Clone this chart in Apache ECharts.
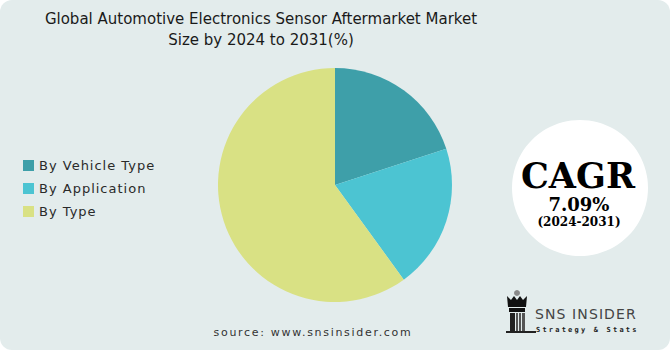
<!DOCTYPE html>
<html>
<head>
<meta charset="utf-8">
<script src="https://cdn.jsdelivr.net/npm/echarts@6/dist/echarts.min.js"></script>
<style>
html,body{margin:0;padding:0;background:#ffffff;}
#wrap{width:670px;height:350px;background:#e3ecec;border-radius:12px;overflow:hidden;}
#chart{width:670px;height:350px;}
</style>
</head>
<body>
<div id="wrap"><div id="chart"></div></div>
<script>
var titleLines = ["Global Automotive Electronics Sensor Aftermarket Market", "Size by 2024 to 2031(%)"];
var categories = ["By Vehicle Type", "By Application", "By Type"];
var values = [20, 20, 60];
var colors = ["#3e9fa9", "#4cc4d2", "#d9e184"];
var cagrTexts = ["CAGR", "7.09%", "(2024-2031)"];
var sourceText = "source: www.snsinsider.com";
var logoTexts = ["SNS INSIDER", "Strategy & Stats"];

var chart = echarts.init(document.getElementById('chart'), null, {renderer: 'svg'});
var data = categories.map(function (c, i) {
  return {name: c, value: values[i], itemStyle: {color: colors[i]}};
});
var ink = "#1a1a1a";
chart.setOption({
  backgroundColor: 'transparent',
  animation: false,
  legend: {
    orient: 'vertical', left: 18, top: 154,
    icon: 'rect', itemWidth: 11, itemHeight: 11, itemGap: 10,
    data: categories,
    textStyle: {fontFamily: 'DejaVu Sans', fontSize: 13, color: '#2a2a2a', lineHeight: 12},
    selectedMode: false
  },
  series: [{
    type: 'pie', center: [335, 185], radius: 117, startAngle: 90, clockwise: true,
    label: {show: false}, labelLine: {show: false},
    emphasis: {disabled: true}, silent: true,
    itemStyle: {borderWidth: 0},
    data: data
  }],
  graphic: [
    {type: 'text', style: {text: titleLines[0], x: 261, y: 19, align: 'center', verticalAlign: 'middle', font: '15px "DejaVu Sans"', fill: ink}},
    {type: 'text', style: {text: titleLines[1], x: 261, y: 40, align: 'center', verticalAlign: 'middle', font: '15px "DejaVu Sans"', fill: ink}},
    {type: 'circle', shape: {cx: 580, cy: 188, r: 68}, style: {fill: '#ffffff'}},
    {type: 'text', style: {text: cagrTexts[0], x: 578, y: 175, align: 'center', verticalAlign: 'middle', font: 'bold 35px "DejaVu Serif"', fill: '#000'}},
    {type: 'text', style: {text: cagrTexts[1], x: 579, y: 204, align: 'center', verticalAlign: 'middle', font: 'bold 18px "DejaVu Serif"', fill: '#000'}},
    {type: 'text', style: {text: cagrTexts[2], x: 579, y: 222, align: 'center', verticalAlign: 'middle', font: 'bold 12px "DejaVu Serif"', fill: '#000'}},
    {type: 'text', style: {text: sourceText, x: 313, y: 332, align: 'center', verticalAlign: 'middle', font: '11px "DejaVu Sans"', fill: '#333'}},
    {type: 'group', children: [
      {type: 'circle', shape: {cx: 517, cy: 293, r: 3}, style: {fill: '#888'}},
      {type: 'polygon', shape: {points: [[507,296],[511,300],[514,296],[517,300],[520,296],[523,300],[527,296],[526,307],[508,307]]}, style: {fill: '#111'}},
      {type: 'rect', shape: {x: 509, y: 308, width: 16, height: 4}, style: {fill: '#111'}},
      {type: 'rect', shape: {x: 510, y: 313, width: 5, height: 20}, style: {fill: '#222'}},
      {type: 'rect', shape: {x: 516, y: 313, width: 2, height: 20}, style: {fill: '#555'}},
      {type: 'rect', shape: {x: 519, y: 313, width: 2, height: 20}, style: {fill: '#555'}},
      {type: 'rect', shape: {x: 522, y: 313, width: 3, height: 20}, style: {fill: '#555'}},
      {type: 'rect', shape: {x: 506, y: 331, width: 30, height: 2}, style: {fill: '#222'}}
    ]},
    {type: 'text', style: {text: logoTexts[0], x: 535, y: 314, align: 'left', verticalAlign: 'middle', font: '14px "DejaVu Sans"', fill: '#444'}},
    {type: 'text', style: {text: logoTexts[1], x: 536, y: 330, align: 'left', verticalAlign: 'middle', font: 'bold 7px "DejaVu Sans Mono"', fill: '#222'}}
  ]
});

var spacing = {};
spacing[sourceText] = '1.7px';
spacing[logoTexts[0]] = '1.1px';
spacing[logoTexts[1]] = '2.2px';
categories.forEach(function (c) { spacing[c] = '1px'; });
function applySpacing() {
  var texts = chart.getDom().querySelectorAll('text');
  texts.forEach(function (t) {
    var s = spacing[t.textContent];
    if (s) { t.style.letterSpacing = s; }
  });
}
applySpacing();
chart.on('finished', applySpacing);
</script>
</body>
</html>
